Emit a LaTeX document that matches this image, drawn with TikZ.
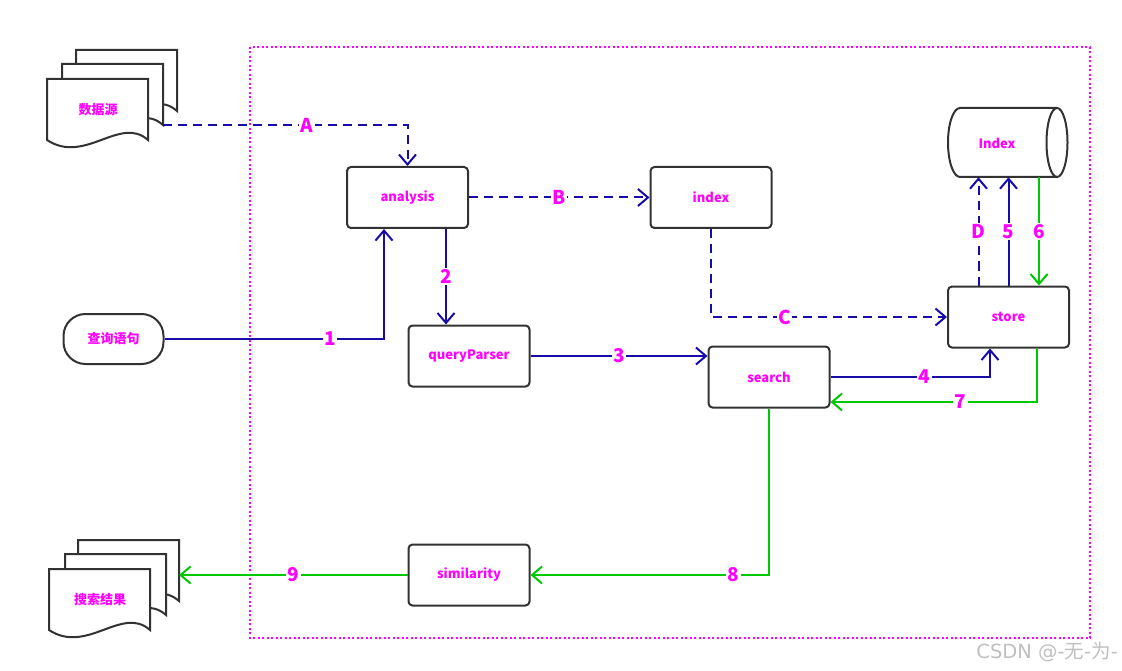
\documentclass[tikz,border=0pt]{standalone}
\usepackage{fontspec}
\setmainfont{Noto Sans CJK SC}
\newfontfamily\wmfont{DejaVu Sans}
\newfontfamily\cjk{Noto Sans CJK SC}
\usetikzlibrary{arrows.meta,calc}
\definecolor{lblue}{RGB}{24,12,168}
\definecolor{lgreen}{RGB}{0,200,0}
\definecolor{mag}{RGB}{255,0,255}
\definecolor{edge}{RGB}{50,50,50}
\tikzset{
  boxline/.style={draw=edge, line width=2pt},
  box/.style={boxline, rounded corners=4pt, minimum width=121pt, minimum height=61pt, inner sep=0pt,
    text=mag, font=\bfseries\fontsize{13}{13}\selectfont},
  term/.style={boxline, rounded corners=22pt, minimum width=100pt, minimum height=50pt, inner sep=0pt,
    text=mag, font=\bfseries\fontsize{13}{13}\selectfont},
  txt/.style={text=mag, font=\bfseries\fontsize{13}{13}\selectfont, inner sep=0pt},
  lbl/.style={fill=white, text=mag, font=\bfseries\fontsize{19}{19}\selectfont, inner sep=1.5pt},
  tipv/.style={-{Straight Barb[length=10pt,width=17pt]}},
  blueline/.style={draw=lblue, line width=2pt, tipv},
  dashblue/.style={blueline, dash pattern=on 9pt off 6pt},
  greenline/.style={draw=lgreen, line width=2pt, tipv},
  docpage/.pic={
    \filldraw[boxline, fill=white] (0,0) -- (101,0) -- (101,61)
      .. controls (73,36) and (38,86) .. (0,61) -- cycle;
  }
}
\begin{document}
\begin{tikzpicture}[x=1pt,y=-1pt]
\useasboundingbox (0,0) rectangle (1122,671);
% frame
\draw[draw=mag, line width=2pt, dash pattern=on 2pt off 2.5pt] (250,47) rectangle (1090,638);

% document stacks
\pic at (76,50) {docpage};
\pic at (62,64) {docpage};
\pic at (47,79) {docpage};
\node[txt] (src) at (98,110) {数据源};
\coordinate (srcout) at (163,125);

\pic at (78,540) {docpage};
\pic at (65,554) {docpage};
\pic at (49,569) {docpage};
\node[txt] (res) at (100,600) {搜索结果};
\coordinate (resin) at (179,575);

% cylinder
\node[minimum width=120pt, minimum height=69pt, inner sep=0pt] (idx) at (1008,142.5) {};
\draw[boxline] (1057,108) -- (960,108) arc[start angle=90, end angle=270, x radius=12pt, y radius=34.5pt] -- (1057,177);
\draw[boxline] (1057,142.5) ellipse [x radius=10.5pt, y radius=34.5pt];
\node[txt] (idxt) at (997,143) {Index};

% boxes
\node[box] (analysis) at (407.5,197.5) {analysis};
\node[box] (index) at (711,197.5) {index};
\node[box] (qp) at (469,356) {queryParser};
\node[box] (search) at (769,377) {search};
\node[box] (sim) at (469,575) {similarity};
\node[box] (store) at (1008.5,317) {store};
\node[term] (query) at (113.5,339) {查询语句};

% connectors
\draw[dashblue] (srcout) -| node[lbl, pos=0.295] {A} (analysis.north);
\draw[dashblue] (analysis) -- node[lbl] {B} (index);
\draw[dashblue] (index.south) |- node[lbl, pos=0.656] {C} (store.west);
\draw[dashblue] ([xshift=-30pt]store.north) coordinate (d1) -- node[lbl] {D} (d1 |- idx.south);
\draw[blueline] (store.north) -- node[lbl] {5} (store.north |- idx.south);
\draw[greenline] ([xshift=30.5pt]store.north |- idx.south) -- node[lbl] {6} ([xshift=30.5pt]store.north);
\draw[blueline] (query.east) -| node[lbl, pos=0.377] {1} ([xshift=-23.5pt]analysis.south);
\draw[blueline] ([xshift=38.5pt]analysis.south) coordinate (a2) -- node[lbl] {2} (a2 |- qp.north);
\draw[blueline] (qp.east) -- node[lbl] {3} (qp.east -| search.west);
\draw[blueline] (search.east) -| node[lbl, pos=0.295] {4} ([xshift=-18.5pt]store.south);
\draw[greenline] ([xshift=28.5pt]store.south) |- node[lbl, pos=0.685] {7} ([yshift=-25pt]search.east);
\draw[greenline] (search.south) |- node[lbl, pos=0.575] {8} (sim.east);
\draw[greenline] (sim.west) -- node[lbl] {9} (resin);

% watermark
\node[text=black!25, font=\wmfont\fontsize{19.5}{19.5}\selectfont, anchor=east, inner sep=0pt] (wm) at (1118,652) {CSDN @-{\cjk 无}-{\cjk 为}-};
\end{tikzpicture}
\end{document}
